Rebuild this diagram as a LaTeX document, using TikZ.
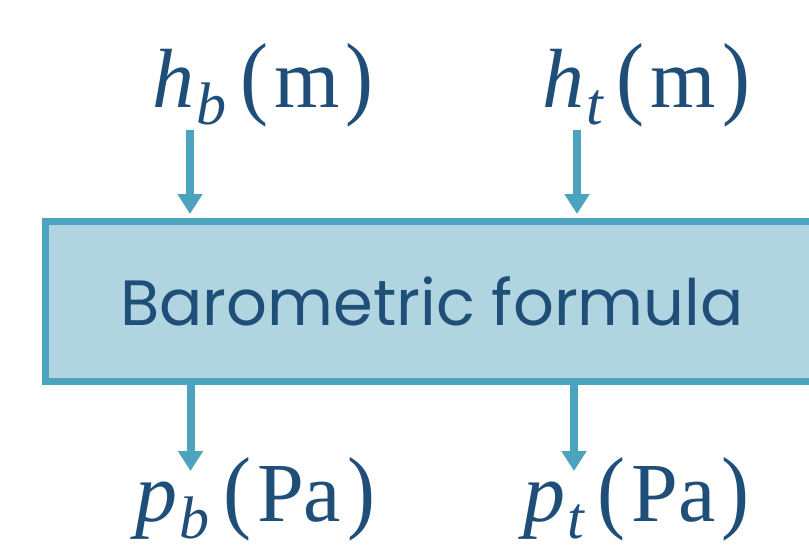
\documentclass[tikz,border=0pt]{standalone}
\usepackage{fontspec}
\setmainfont{Liberation Serif}
\newfontfamily\boxfont{Poppins}
\usepackage{graphicx}
\usetikzlibrary{arrows.meta}
\definecolor{edgeblue}{HTML}{4BA3BE}
\definecolor{fillblue}{HTML}{B0D5E0}
\definecolor{txtblue}{HTML}{1F4E79}
\newcommand{\sublbl}[1]{\hspace{2pt}\raisebox{-17pt}{\fontsize{60}{60}\selectfont\itshape #1}\hspace{14pt}}
\newcommand{\lparen}{\scalebox{1}[1.1]{(}\hspace{6pt}}
\newcommand{\rparen}{\hspace{6pt}\scalebox{1}[1.1]{)}}
\tikzset{
  blockbox/.style={draw=edgeblue, fill=fillblue, line width=7pt, inner sep=0pt},
  flowarrow/.style={draw=edgeblue, line width=8pt, -{Triangle[width=24pt,length=20pt]}},
  varlabel/.style={text=txtblue, font=\fontsize{84}{84}\selectfont, inner sep=0pt, anchor=base west},
  blocktext/.style={text=txtblue, font=\boxfont\fontsize{64}{64}\selectfont, inner sep=0pt}
}
\begin{document}
\begin{tikzpicture}[x=1pt,y=-1pt]
\useasboundingbox (0,0) rectangle (809,549);
\clip (0,0) rectangle (809,549);
\node[blockbox, minimum width=860pt, minimum height=160pt] (box) at (475.5,301) {};
\node[blocktext] (boxtxt) at (432,301) {Barometric formula};
\node[varlabel] (hb) at (152,107) {\textit{h}\sublbl{b}\lparen m\rparen};
\node[varlabel] (ht) at (542,107) {\textit{h}\sublbl{t}\lparen m\rparen};
\node[varlabel] (pb) at (135,521) {\textit{p}\sublbl{b}\lparen Pa\rparen};
\node[varlabel] (pt) at (523,521) {\textit{p}\sublbl{t}\lparen Pa\rparen};
\coordinate (hbin) at (190,130);
\coordinate (htin) at (577,130);
\coordinate (pbout) at (190.5,471);
\coordinate (ptout) at (574,471);
\draw[flowarrow, shorten >=3.5pt] (hbin) -- (hbin |- box.north);
\draw[flowarrow, shorten >=3.5pt] (htin) -- (htin |- box.north);
\draw[flowarrow] (pbout |- box.south) -- (pbout);
\draw[flowarrow] (ptout |- box.south) -- (ptout);
\end{tikzpicture}
\end{document}
